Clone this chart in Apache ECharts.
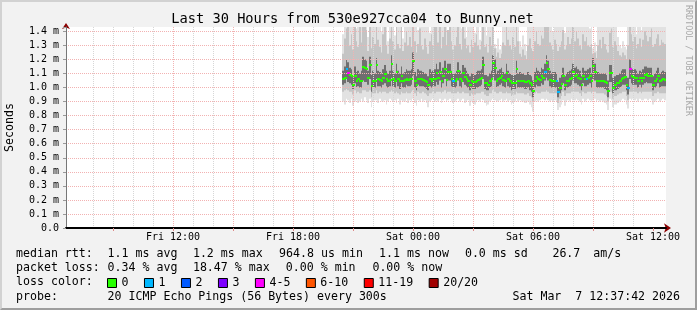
<!DOCTYPE html>
<html><head><meta charset="utf-8">
<script src="https://cdn.jsdelivr.net/npm/echarts@6/dist/echarts.min.js"></script>
<style>
html,body{margin:0;padding:0;background:#f2f2f2;}
#wrap{position:relative;width:697px;height:310px;}
#c{position:absolute;left:0;top:0;width:697px;height:310px;}
#frame{position:absolute;left:0;top:0;width:697px;height:310px;box-sizing:border-box;border:2px solid;border-color:#d2d2d2 #9e9e9e #9e9e9e #d2d2d2;pointer-events:none;}
</style></head>
<body><div id="wrap"><div id="c"></div><div id="frame"></div></div>
<script>
// ---- data (ms) ----
const titleText = 'Last 30 Hours from 530e927cca04 to Bunny.net';
const stepMinutes = 5;              // 300 s probe step
const firstSampleHour = -3.45;      // end of first sample, hours relative to Sat 00:00
const median = [
1.064,1.07,1.13,1.105,1.09,1.081,1.021,1.081,1.05,1.06,
1.045,1.05,1.148,1.14,1.135,1.07,1.16,1.01,1.05,1.045,
1.16,1.06,1.057,1.05,1.07,1.093,1.06,1.05,1.057,1.171,
1.06,1.045,1.11,1.06,1.045,1.081,1.045,1.055,1.064,1.057,
1.06,1.062,1.188,1.05,1.021,1.064,1.062,1.06,1.057,1.045,
1.04,1.021,1.062,1.05,1.06,1.062,1.105,1.07,1.11,1.045,
1.08,1.129,1.057,1.11,1.11,1.06,1.045,1.045,1.06,1.117,
1.06,1.045,1.10,1.076,1.06,1.045,1.021,1.045,1.04,1.038,
1.05,1.055,1.062,1.069,1.16,1.033,1.03,1.021,1.045,1.06,
1.175,1.14,1.045,1.06,1.069,1.081,1.057,1.045,1.105,1.06,
1.045,1.029,1.03,1.033,1.129,1.045,1.05,1.05,1.045,1.04,
1.038,1.05,1.03,1.017,0.976,1.05,1.076,1.06,1.057,1.081,
1.07,1.113,1.175,1.129,1.057,1.045,1.05,1.05,1.045,0.966,
1.0,1.026,1.081,1.021,1.045,1.05,1.06,1.069,1.11,1.081,
1.086,1.07,1.062,1.021,1.081,1.062,1.062,1.07,1.081,1.045,
1.155,1.11,1.05,1.05,1.045,1.045,1.045,1.04,1.033,0.976,
1.10,1.10,1.0,1.021,1.03,1.033,1.045,1.062,1.07,1.076,
1.021,0.997,1.135,1.08,1.076,1.07,1.069,1.045,1.069,1.05,
1.07,1.088,1.093,1.081,1.08,1.081,1.021,1.045,1.06,1.081,
1.045,1.057,1.06,1.057];
const pingMax = [
1.38,1.5,1.5,1.5,1.45,1.5,1.5,1.5,1.42,1.5,
1.5,1.5,1.5,1.5,1.5,1.36,1.5,1.5,1.5,1.5,
1.5,1.5,1.5,1.4,1.5,1.5,1.5,1.33,1.5,1.5,
1.5,1.37,1.5,1.5,1.5,1.5,1.35,1.5,1.5,1.5,
1.5,1.5,1.5,1.5,1.5,1.41,1.5,1.5,1.5,1.5,
1.5,1.5,1.39,1.5,1.5,1.5,1.5,1.5,1.5,1.5,
1.5,1.5,1.5,1.38,1.5,1.5,1.5,1.5,1.5,1.5,
1.5,1.42,1.5,1.5,1.36,1.5,1.5,1.5,1.5,1.39,
1.5,1.5,1.34,1.5,1.5,1.5,1.37,1.5,1.5,1.5,
1.5,1.31,1.28,1.35,1.27,1.3,1.5,1.5,1.5,1.5,
1.5,1.5,1.5,1.5,1.5,1.5,1.33,1.29,1.37,1.31,
1.26,1.5,1.5,1.5,1.5,1.5,1.5,1.5,1.5,1.5,
1.5,1.5,1.5,1.5,1.5,1.5,1.4,1.5,1.5,1.5,
1.5,1.5,1.5,1.39,1.5,1.5,1.5,1.5,1.5,1.5,
1.5,1.5,1.5,1.5,1.5,1.5,1.5,1.5,1.42,1.5,
1.28,1.32,1.26,1.5,1.5,1.5,1.5,1.5,1.5,1.5,
1.5,1.5,1.5,1.5,1.5,1.36,1.3,1.28,1.33,1.29,
1.27,1.5,1.5,1.5,1.5,1.5,1.38,1.5,1.5,1.41,
1.5,1.5,1.5,1.5,1.5,1.5,1.5,1.5,1.5,1.5,
1.5,1.5,1.5,1.5];
const ping90 = [
1.24,1.35,1.42,1.5,1.3,1.38,1.27,1.5,1.33,1.29,
1.45,1.32,1.5,1.5,1.41,1.26,1.5,1.28,1.36,1.31,
1.5,1.34,1.29,1.25,1.38,1.44,1.3,1.24,1.35,1.5,
1.33,1.27,1.46,1.31,1.28,1.5,1.26,1.32,1.4,1.3,
1.36,1.29,1.5,1.33,1.25,1.31,1.42,1.3,1.27,1.35,
1.29,1.24,1.33,1.38,1.3,1.45,1.5,1.32,1.47,1.28,
1.36,1.5,1.3,1.41,1.5,1.33,1.27,1.3,1.36,1.5,
1.31,1.27,1.44,1.35,1.28,1.3,1.25,1.34,1.29,1.32,
1.38,1.3,1.27,1.33,1.5,1.29,1.31,1.25,1.36,1.3,
1.5,1.28,1.22,1.25,1.21,1.24,1.32,1.3,1.45,1.34,
1.3,1.27,1.36,1.29,1.5,1.33,1.24,1.22,1.27,1.23,
1.2,1.3,1.35,1.28,1.26,1.33,1.4,1.31,1.3,1.37,
1.35,1.46,1.5,1.5,1.32,1.3,1.27,1.34,1.31,1.26,
1.29,1.33,1.41,1.27,1.3,1.36,1.31,1.35,1.45,1.33,
1.4,1.35,1.3,1.27,1.38,1.33,1.36,1.3,1.29,1.31,
1.24,1.25,1.21,1.3,1.34,1.28,1.36,1.31,1.27,1.25,
1.39,1.42,1.29,1.33,1.3,1.26,1.23,1.22,1.25,1.23,
1.2,1.3,1.45,1.38,1.33,1.36,1.28,1.31,1.35,1.29,
1.34,1.4,1.37,1.33,1.36,1.42,1.29,1.31,1.35,1.38,
1.3,1.34,1.32,1.31];
const ping75 = [
1.12,1.15,1.2,1.18,1.14,1.13,1.08,1.15,1.11,1.12,
1.1,1.12,1.22,1.2,1.19,1.12,1.22,1.09,1.12,1.1,
1.21,1.12,1.11,1.1,1.13,1.16,1.12,1.1,1.12,1.23,
1.12,1.1,1.17,1.12,1.1,1.15,1.1,1.11,1.13,1.12,
1.12,1.13,1.25,1.11,1.08,1.13,1.12,1.12,1.11,1.1,
1.1,1.08,1.13,1.11,1.12,1.13,1.17,1.13,1.18,1.1,
1.14,1.19,1.12,1.17,1.17,1.12,1.1,1.1,1.12,1.18,
1.12,1.1,1.16,1.14,1.12,1.1,1.08,1.1,1.1,1.09,
1.11,1.12,1.12,1.13,1.22,1.09,1.09,1.08,1.1,1.12,
1.23,1.2,1.1,1.12,1.13,1.14,1.11,1.1,1.17,1.12,
1.1,1.09,1.09,1.09,1.19,1.1,1.11,1.1,1.1,1.09,
1.09,1.11,1.09,1.08,1.05,1.11,1.14,1.12,1.11,1.14,
1.13,1.17,1.23,1.19,1.12,1.1,1.11,1.11,1.1,1.04,
1.07,1.09,1.14,1.08,1.1,1.11,1.12,1.13,1.17,1.14,
1.15,1.13,1.12,1.08,1.14,1.12,1.12,1.13,1.14,1.1,
1.21,1.17,1.11,1.11,1.1,1.1,1.1,1.1,1.09,1.05,
1.16,1.16,1.07,1.08,1.09,1.09,1.1,1.12,1.13,1.13,
1.08,1.07,1.2,1.14,1.13,1.13,1.12,1.1,1.12,1.11,
1.13,1.15,1.15,1.14,1.14,1.14,1.08,1.1,1.12,1.14,
1.1,1.11,1.12,1.11];
const ping25 = [
1.02,1.03,1.06,1.04,1.03,1.02,0.99,1.03,1.0,1.01,
1.0,1.0,1.05,1.04,1.04,1.02,1.06,0.97,1.0,1.0,
1.06,1.01,1.01,1.0,1.02,1.03,1.01,1.0,1.01,1.07,
1.01,1.0,1.04,1.01,0.99,1.03,1.0,1.0,1.02,1.01,
1.01,1.02,1.08,1.0,0.98,1.02,1.01,1.01,1.01,1.0,
0.99,0.98,1.01,1.0,1.01,1.01,1.04,1.02,1.05,1.0,
1.03,1.06,1.01,1.05,1.05,1.01,1.0,1.0,1.01,1.05,
1.01,1.0,1.04,1.02,1.01,1.0,0.98,1.0,0.99,0.99,
1.0,1.0,1.01,1.02,1.06,0.99,0.98,0.98,1.0,1.01,
1.07,1.05,1.0,1.01,1.02,1.03,1.01,1.0,1.04,1.01,
1.0,0.98,0.99,0.99,1.05,1.0,1.0,1.0,1.0,0.99,
0.99,1.0,0.98,0.97,0.93,1.0,1.02,1.01,1.01,1.03,
1.02,1.05,1.07,1.05,1.01,1.0,1.0,1.0,1.0,0.93,
0.96,0.98,1.03,0.98,1.0,1.0,1.01,1.02,1.05,1.03,
1.03,1.02,1.01,0.98,1.03,1.01,1.01,1.02,1.03,1.0,
1.06,1.05,1.0,1.0,1.0,1.0,1.0,0.99,0.98,0.93,
1.04,1.04,0.96,0.98,0.98,0.99,1.0,1.01,1.02,1.02,
0.98,0.95,1.06,1.03,1.02,1.02,1.02,1.0,1.02,1.0,
1.02,1.03,1.04,1.03,1.03,1.03,0.98,1.0,1.01,1.03,
1.0,1.01,1.01,1.01];
const ping10 = [
0.97,0.98,0.99,0.98,0.97,0.97,0.95,0.98,0.96,0.97,
0.96,0.96,0.98,0.98,0.97,0.97,0.98,0.93,0.96,0.96,
0.98,0.96,0.97,0.96,0.97,0.97,0.96,0.96,0.97,0.98,
0.97,0.96,0.97,0.96,0.95,0.97,0.96,0.96,0.97,0.96,
0.96,0.97,0.98,0.96,0.94,0.97,0.96,0.96,0.97,0.96,
0.95,0.94,0.96,0.96,0.97,0.96,0.97,0.97,0.97,0.96,
0.97,0.98,0.96,0.97,0.97,0.96,0.96,0.96,0.96,0.97,
0.96,0.96,0.97,0.96,0.96,0.96,0.94,0.96,0.95,0.95,
0.96,0.96,0.96,0.97,0.97,0.95,0.94,0.94,0.96,0.96,
0.98,0.97,0.96,0.96,0.97,0.97,0.96,0.96,0.97,0.96,
0.96,0.94,0.95,0.95,0.97,0.96,0.96,0.96,0.96,0.95,
0.95,0.96,0.94,0.93,0.9,0.96,0.97,0.96,0.96,0.97,
0.97,0.97,0.98,0.97,0.96,0.96,0.96,0.96,0.96,0.89,
0.92,0.94,0.97,0.94,0.96,0.96,0.96,0.97,0.97,0.97,
0.97,0.97,0.96,0.94,0.97,0.96,0.96,0.97,0.97,0.96,
0.97,0.97,0.96,0.96,0.96,0.96,0.96,0.95,0.94,0.9,
0.97,0.97,0.92,0.94,0.94,0.95,0.96,0.96,0.97,0.97,
0.94,0.91,0.97,0.97,0.97,0.97,0.97,0.96,0.97,0.96,
0.97,0.97,0.97,0.97,0.97,0.97,0.94,0.96,0.96,0.97,
0.96,0.96,0.96,0.96];
const pingMin = [
0.9,0.88,0.92,0.91,0.89,0.92,0.87,0.9,0.91,0.89,
0.9,0.92,0.9,0.93,0.91,0.89,0.92,0.86,0.9,0.91,
0.91,0.89,0.92,0.9,0.9,0.91,0.88,0.9,0.92,0.91,
0.9,0.91,0.89,0.92,0.88,0.91,0.9,0.9,0.92,0.89,
0.91,0.9,0.92,0.89,0.87,0.91,0.9,0.92,0.9,0.91,
0.89,0.86,0.9,0.91,0.92,0.9,0.91,0.9,0.92,0.89,
0.91,0.92,0.9,0.91,0.92,0.9,0.89,0.9,0.91,0.92,
0.9,0.91,0.92,0.89,0.9,0.91,0.87,0.9,0.89,0.88,
0.9,0.91,0.9,0.92,0.91,0.89,0.87,0.88,0.9,0.91,
0.92,0.91,0.9,0.9,0.91,0.92,0.9,0.91,0.92,0.9,
0.91,0.88,0.89,0.9,0.92,0.9,0.91,0.9,0.9,0.89,
0.89,0.9,0.88,0.86,0.83,0.9,0.91,0.9,0.91,0.92,
0.92,0.91,0.92,0.91,0.9,0.91,0.9,0.91,0.9,0.84,
0.86,0.88,0.91,0.87,0.9,0.91,0.9,0.92,0.91,0.91,
0.92,0.91,0.9,0.88,0.92,0.9,0.91,0.92,0.91,0.9,
0.91,0.92,0.9,0.91,0.9,0.91,0.9,0.89,0.88,0.84,
0.92,0.91,0.86,0.88,0.88,0.89,0.9,0.91,0.92,0.91,
0.88,0.85,0.92,0.91,0.92,0.91,0.92,0.9,0.92,0.91,
0.91,0.92,0.92,0.91,0.92,0.91,0.88,0.9,0.91,0.92,
0.9,0.91,0.92,0.91];
// samples with packet loss (index, lost pings of 20)
const lossIdx = [2, 3, 66, 121, 128, 129, 146, 171, 172];
const lossCnt = [1, 4, 1, 1, 1, 1, 1, 1, 4];
// loss colour classes
const lossNames = ['0', '1', '2', '3', '4-5', '6-10', '11-19', '20/20'];
const lossLow   = [0, 1, 2, 3, 4, 6, 11, 20];
const lossHigh  = [0, 1, 2, 3, 5, 10, 19, 20];
const lossColors = ['#26ff00', '#00b8ff', '#0059ff', '#7e00ff', '#ff00ff', '#ff5500', '#ff0000', '#a10000'];
// axes
const X_MIN = -17.35, X_MAX = 12.65;   // hours relative to Sat 00:00 (30 h window)
const Y_MAX = 1.431;
const majorHours = [-15, -12, -9, -6, -3, 0, 3, 6, 9, 12];
const minorHours = [-17,-16,-15,-14,-13,-12,-11,-10,-9,-8,-7,-6,-5,-4,-3,-2,-1,0,1,2,3,4,5,6,7,8,9,10,11,12];
const xLabelHours = [-12, -6, 0, 6, 12];
const xLabelTexts = ['Fri 12:00', 'Fri 18:00', 'Sat 00:00', 'Sat 06:00', 'Sat 12:00'];
// legend / statistics text
const statLines = [
  { y: 254, parts: [[16, 'median rtt:'], [107.6, '1.1 ms avg'], [192.9, '1.2 ms max'], [279.1, '964.8 us min'], [379.1, '1.1 ms now'], [464.9, '0.0 ms sd'], [552.4, '26.7'], [593.3, 'am/s']] },
  { y: 268, parts: [[16, 'packet loss:'], [107.6, '0.34 % avg'], [192.9, '18.47 % max'], [285.8, '0.00 % min'], [372.4, '0.00 % now']] },
  { y: 282, parts: [[16, 'loss color:']] },
  { y: 297, parts: [[16, 'probe:'], [107.6, '20 ICMP Echo Pings (56 Bytes) every 300s']] }
];
const stampText = 'Sat Mar  7 12:37:42 2026';

// ---- chart ----
const MONO = '"DejaVu Sans Mono", monospace';
const STEP_H = stepMinutes / 60;
const times = median.map((_, i) => firstSampleHour + i * STEP_H);

function bandRender(color) {
  return function (params, api) {
    const t = api.value(0);
    const a = api.coord([t - STEP_H, api.value(2)]);
    const b = api.coord([t, api.value(1)]);
    const cs = params.coordSys;
    const x0 = Math.round(a[0]), x1 = Math.round(b[0]);
    const yTop = Math.max(a[1], cs.y);
    const yBot = Math.min(b[1], cs.y + cs.height);
    if (x1 <= x0 || yBot <= yTop) return null;
    return { type: 'rect', shape: { x: x0, y: yTop, width: x1 - x0, height: yBot - yTop }, style: { fill: color } };
  };
}
function medRender(color) {
  return function (params, api) {
    const t = api.value(0);
    const a = api.coord([t - STEP_H, api.value(1)]);
    const b = api.coord([t, api.value(1)]);
    const x0 = Math.round(a[0]), x1 = Math.round(b[0]);
    return { type: 'rect', shape: { x: x0, y: Math.round(a[1]) - 1, width: x1 - x0 + 1, height: 2 }, style: { fill: color } };
  };
}
function lossOf(i) { const k = lossIdx.indexOf(i); return k < 0 ? 0 : lossCnt[k]; }

const bands = [
  { lo: pingMin, hi: pingMax, color: '#e2e2e2' },
  { lo: ping10, hi: ping90, color: '#c4c4c4' },
  { lo: ping25, hi: ping75, color: '#6f6f6f' }
];
const series = [];
bands.forEach((bd, k) => {
  series.push({
    type: 'custom', name: 'smoke' + k, xAxisIndex: 0, yAxisIndex: 0, z: 1, silent: true, clip: true,
    renderItem: bandRender(bd.color),
    data: times.map((t, i) => [t, bd.lo[i], bd.hi[i]])
  });
});
lossNames.forEach((nm, c) => {
  const data = [];
  median.forEach((m, i) => { const L = lossOf(i); if (L >= lossLow[c] && L <= lossHigh[c]) data.push([times[i], m]); });
  series.push({
    type: 'custom', name: nm, xAxisIndex: 0, yAxisIndex: 0, z: 5, silent: true, clip: true,
    itemStyle: { color: lossColors[c] },
    renderItem: medRender(lossColors[c]),
    data: data
  });
});

const graphics = [
  { type: 'text', x: 352.5, y: 19, style: { text: titleText, font: '13.7px ' + MONO, fill: '#000', textAlign: 'center', textVerticalAlign: 'middle' } },
  { type: 'text', x: 688, y: 5, rotation: -Math.PI / 2, style: { text: 'RRDTOOL / TOBI OETIKER', font: '8.4px ' + MONO, fill: '#a8a8a8', textAlign: 'left', textVerticalAlign: 'middle' } },
  { type: 'text', x: 680, y: 297, style: { text: stampText, font: '11.6px ' + MONO, fill: '#000', textAlign: 'right', textVerticalAlign: 'middle' } }
];
statLines.forEach(line => line.parts.forEach(p => {
  graphics.push({ type: 'text', x: p[0], y: line.y, style: { text: p[1], font: '11.6px ' + MONO, fill: '#000', textAlign: 'left', textVerticalAlign: 'middle' } });
}));

const gridDot = { color: '#f2b2b2', width: 1, type: [1, 1] };
const chart = echarts.init(document.getElementById('c'), null, { renderer: 'canvas' });
chart.setOption({
  animation: false,
  backgroundColor: '#f2f2f2',
  grid: { left: 66, right: 31, top: 27, bottom: 82, show: true, backgroundColor: '#ffffff', borderWidth: 0, containLabel: false, outerBoundsMode: 'none' },
  xAxis: [
    { type: 'value', min: X_MIN, max: X_MAX, position: 'bottom', z: 3,
      axisLine: { show: true, onZero: false, lineStyle: { color: '#000', width: 2 } },
      axisTick: { show: true, customValues: majorHours, length: 3, lineStyle: { color: '#d88' } },
      axisLabel: { customValues: xLabelHours, margin: 4, color: '#000', fontFamily: MONO, fontSize: 10,
        formatter: v => { const k = xLabelHours.indexOf(Math.round(v)); return k < 0 ? '' : xLabelTexts[k]; } },
      splitLine: { show: true, showMinLine: false, showMaxLine: false, lineStyle: gridDot } },
    { type: 'value', min: X_MIN, max: X_MAX, position: 'bottom', z: 2,
      axisLine: { show: true, onZero: false, symbol: ['none', 'arrow'], symbolSize: [7, 7], symbolOffset: [0, 5], lineStyle: { color: '#8b0000', width: 0 } },
      axisTick: { show: false, customValues: minorHours },
      axisLabel: { show: false, customValues: minorHours },
      splitLine: { show: true, showMinLine: false, showMaxLine: false, lineStyle: { color: '#d6d6d6', width: 1, type: [1, 1] } } }
  ],
  yAxis: [
    { type: 'value', min: 0, max: Y_MAX, interval: 0.1, position: 'left', z: 3,
      name: 'Seconds', nameLocation: 'middle', nameGap: 50, nameTextStyle: { fontFamily: MONO, fontSize: 11.6, color: '#000' },
      axisLine: { show: true, onZero: false, lineStyle: { color: '#777', width: 1 } },
      axisTick: { show: true, length: 3, lineStyle: { color: '#999' } },
      axisLabel: { margin: 7, color: '#000', fontFamily: MONO, fontSize: 10,
        formatter: v => { const k = Math.round(v * 10); if (Math.abs(v * 10 - k) > 1e-6) return ''; return k === 0 ? '0.0' : (k / 10).toFixed(1) + ' m'; } },
      splitLine: { show: true, showMinLine: false, showMaxLine: false, lineStyle: gridDot } },
    { type: 'value', min: 0, max: Y_MAX, interval: 0.1, position: 'left', z: 2,
      axisLine: { show: true, onZero: false, symbol: ['none', 'arrow'], symbolSize: [6, 6], symbolOffset: [0, 4], lineStyle: { color: '#8b0000', width: 0 } },
      axisTick: { show: false }, axisLabel: { show: false }, splitLine: { show: false } }
  ],
  legend: {
    left: 107, top: 277, padding: 0, itemGap: 15.5, itemWidth: 9, itemHeight: 9, icon: 'rect', selectedMode: false,
    itemStyle: { borderColor: '#000', borderWidth: 1 },
    textStyle: { fontFamily: MONO, fontSize: 11.6, color: '#000' },
    data: lossNames
  },
  graphic: graphics,
  series: series
});
</script></body></html>
